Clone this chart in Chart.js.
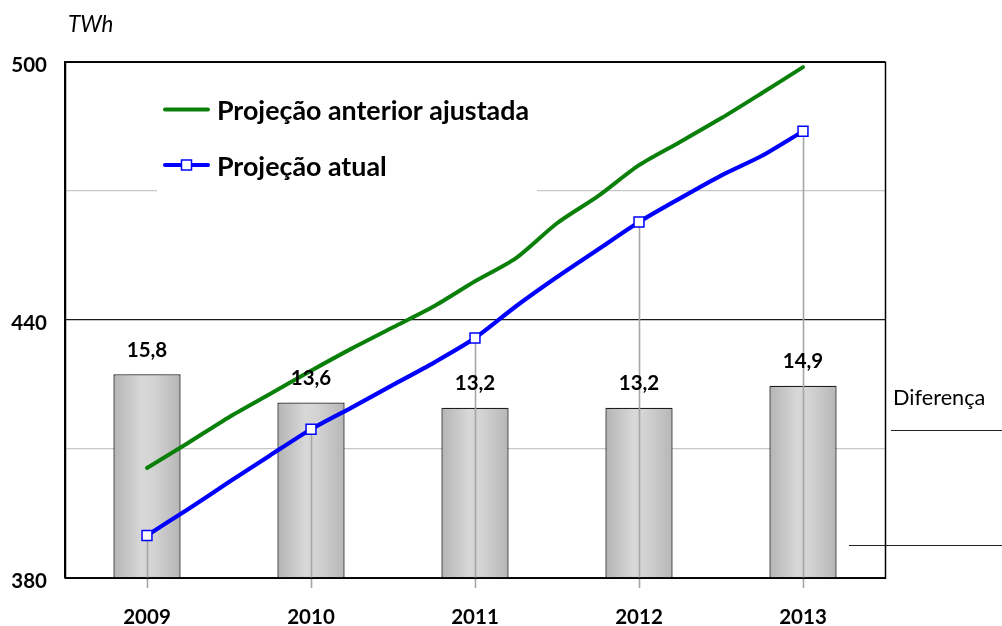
<!DOCTYPE html>
<html>
<head>
<meta charset="utf-8">
<script src="https://cdn.jsdelivr.net/npm/chart.js@4/dist/chart.umd.min.js"></script>
<style>
  html, body { margin: 0; padding: 0; background: #fff; }
  #wrap { width: 1002px; height: 626px; }
</style>
</head>
<body>
<div id="wrap"><canvas id="c" width="1002" height="626"></canvas></div>
<script>
// ---- data ----
const years = ['2009', '2010', '2011', '2012', '2013'];
const quarterX = [2009, 2009.25, 2009.5, 2009.75, 2010, 2010.25, 2010.5, 2010.75, 2011,
                  2011.25, 2011.5, 2011.75, 2012, 2012.25, 2012.5, 2012.75, 2013];
const projecaoAnteriorAjustada = [405.6, 411.4, 417.4, 422.8, 428.2, 433.4, 438.3, 443.2, 449.0,
                                  454.4, 462.5, 468.8, 476.0, 481.4, 486.9, 492.8, 498.8];
const projecaoAtual = [389.9, 396.0, 402.3, 408.5, 414.6, 419.7, 424.9, 430.1, 435.8,
                       443.2, 450.0, 456.4, 462.8, 468.3, 473.6, 478.2, 483.9];
const diferenca = [15.8, 13.6, 13.2, 13.2, 14.9];
const diferencaLabels = ['15,8', '13,6', '13,2', '13,2', '14,9'];
const yTickLabels = [380, 440, 500];
const legendLabels = ['Projeção anterior ajustada', 'Projeção atual'];
const unitLabel = 'TWh';
const sideLabel = 'Diferença';

const FONT = 'Lato';
const GREEN = '#0a800a';
const BLUE = '#0000ff';
const BAR_PCT = 0.41;

function toXY(xs, ys) { return xs.map((x, i) => ({ x: x, y: ys[i] })); }

function barGradient(ctx) {
  const chart = ctx.chart;
  const xs = chart.scales && chart.scales.x;
  if (!xs || ctx.type !== 'data' || !xs.width) return '#c8c8c8';
  const cx = xs.getPixelForValue(ctx.dataIndex);
  const w = (xs.width / years.length) * BAR_PCT;
  const g = chart.ctx.createLinearGradient(cx - w / 2, 0, cx + w / 2, 0);
  g.addColorStop(0, '#b4b4b4');
  g.addColorStop(0.42, '#d8d8d8');
  g.addColorStop(0.6, '#d3d3d3');
  g.addColorStop(1, '#b6b6b6');
  return g;
}

const decor = {
  id: 'decor',
  beforeDatasetsDraw(chart) {
    const c = chart.ctx, L = chart.chartArea.left;
    c.save();
    c.fillStyle = '#fff';
    c.fillRect(L + 92, 84, 380, 114);
    // green sample
    c.strokeStyle = GREEN; c.lineWidth = 4; c.lineCap = 'round';
    c.beginPath(); c.moveTo(L + 100, 109.5); c.lineTo(L + 143, 109.5); c.stroke();
    // blue sample
    c.strokeStyle = BLUE;
    c.beginPath(); c.moveTo(L + 100, 165); c.lineTo(L + 143, 165); c.stroke();
    c.fillStyle = '#fff'; c.lineWidth = 1.5; c.lineCap = 'butt';
    c.fillRect(L + 116.5, 160, 10, 10); c.strokeRect(L + 116.5, 160, 10, 10);
    c.fillStyle = '#000';
    c.font = 'bold 26.8px ' + FONT;
    c.textAlign = 'left'; c.textBaseline = 'alphabetic';
    c.fillText(legendLabels[0], L + 152, 120);
    c.fillText(legendLabels[1], L + 152, 175.5);
    c.restore();
  },
  afterDatasetDraw(chart, args) {
    if (args.meta.type !== 'bar') return;
    const c = chart.ctx;
    const blue = chart.getDatasetMeta(1);
    const bottom = chart.chartArea.bottom;
    c.save();
    c.strokeStyle = '#a6a6a6'; c.lineWidth = 1.6;
    blue.data.forEach((p, i) => {
      if (!Number.isInteger(quarterX[i])) return;
      c.beginPath(); c.moveTo(Math.round(p.x) + 0.5, p.y); c.lineTo(Math.round(p.x) + 0.5, bottom + 10); c.stroke();
    });
    c.restore();
  },
  afterDatasetsDraw(chart) {
    const c = chart.ctx;
    const bars = chart.getDatasetMeta(2);
    c.save();
    c.fillStyle = '#000';
    c.font = 'bold 20.5px ' + FONT;
    c.textAlign = 'center'; c.textBaseline = 'middle';
    bars.data.forEach((b, i) => { c.fillText(diferencaLabels[i], b.x, b.y - 24); });
    c.restore();
  },
  afterDraw(chart) {
    const c = chart.ctx, a = chart.chartArea;
    c.save();
    c.strokeStyle = '#000'; c.lineWidth = 1.5;
    c.strokeRect(Math.round(a.left) + 0.5, Math.round(a.top) + 0.25, Math.round(a.right - a.left), Math.round(a.bottom - a.top));
    c.fillStyle = '#000';
    c.font = 'italic 22.4px ' + FONT;
    c.textAlign = 'left'; c.textBaseline = 'alphabetic';
    c.fillText(unitLabel, a.left + 3, 32);
    c.font = '21.7px ' + FONT;
    c.fillText(sideLabel, a.right + 8, 405);
    c.strokeStyle = '#222'; c.lineWidth = 1.2;
    c.beginPath(); c.moveTo(a.right + 6, 430.5); c.lineTo(1002, 430.5); c.stroke();
    c.beginPath(); c.moveTo(a.right - 36, 545.5); c.lineTo(1002, 545.5); c.stroke();
    c.restore();
  }
};

new Chart(document.getElementById('c'), {
  type: 'bar',
  data: {
    labels: years,
    datasets: [
      {
        type: 'line',
        label: legendLabels[0],
        data: toXY(quarterX, projecaoAnteriorAjustada),
        xAxisID: 'xq', yAxisID: 'y',
        borderColor: GREEN, borderWidth: 4, borderCapStyle: 'round',
        pointRadius: 0, tension: 0.25, order: 1
      },
      {
        type: 'line',
        label: legendLabels[1],
        data: toXY(quarterX, projecaoAtual),
        xAxisID: 'xq', yAxisID: 'y',
        borderColor: BLUE, borderWidth: 4.2, borderCapStyle: 'round',
        pointStyle: 'rect',
        pointRadius: (ctx) => Number.isInteger(quarterX[ctx.dataIndex]) ? 7 : 0,
        pointBackgroundColor: '#fff', pointBorderColor: BLUE, pointBorderWidth: 1.5,
        tension: 0.25, order: 0
      },
      {
        type: 'bar',
        label: sideLabel,
        data: diferenca,
        xAxisID: 'x', yAxisID: 'yb',
        backgroundColor: barGradient,
        borderColor: '#1e1e1e', borderWidth: 1.3, borderSkipped: false,
        grouped: false,
        categoryPercentage: 1, barPercentage: BAR_PCT, order: 2
      }
    ]
  },
  options: {
    responsive: false,
    animation: false,
    devicePixelRatio: 1,
    layout: { padding: { top: 62, right: 117, left: 0, bottom: 0 } },
    plugins: { legend: { display: false }, tooltip: { enabled: false } },
    scales: {
      x: {
        type: 'category', offset: true,
        grid: { display: false, drawTicks: false },
        border: { display: false },
        ticks: { color: '#000', font: { family: FONT, size: 20.5, weight: 'bold' }, padding: 27, maxRotation: 0 },
        afterFit(s) { s.height = 48; }
      },
      xq: { type: 'linear', axis: 'x', position: 'bottom', min: 2008.5, max: 2013.5, offset: false, display: false },
      y: {
        type: 'linear', position: 'left', min: 380, max: 500,
        grid: {
          drawTicks: false,
          color: (ctx) => (ctx.tick && yTickLabels.includes(ctx.tick.value)) ? '#1a1a1a' : '#c8c8c8',
          lineWidth: (ctx) => (ctx.tick && yTickLabels.includes(ctx.tick.value)) ? 1.3 : 1.2
        },
        border: { display: true, color: '#000', width: 1.5 },
        ticks: {
          stepSize: 30, color: '#000', padding: 18, labelOffset: 3,
          font: { family: FONT, size: 20.5, weight: 'bold' },
          callback: (v) => yTickLabels.includes(v) ? String(v) : ''
        },
        afterFit(s) { s.width = 65; }
      },
      yb: { type: 'linear', axis: 'y', position: 'right', min: 0, max: 40, display: false }
    }
  },
  plugins: [decor]
});
</script>
</body>
</html>
